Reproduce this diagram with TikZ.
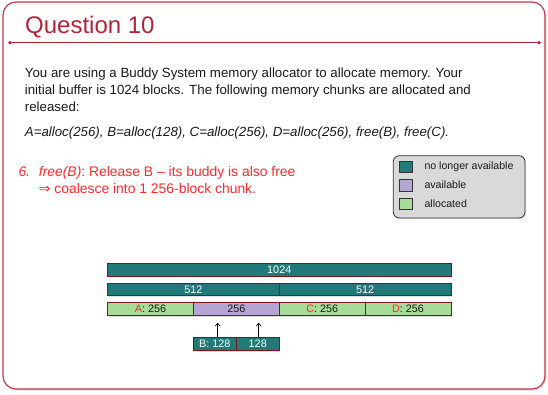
\documentclass[tikz,border=0pt]{standalone}
\usepackage{fontspec}
\setmainfont{Liberation Sans}
\newfontfamily\symfont{DejaVu Sans}
\usetikzlibrary{shadows,arrows.meta}
\definecolor{framered}{HTML}{C23A4C}
\definecolor{titlered}{HTML}{B3243A}
\definecolor{alertred}{HTML}{FF2A2A}
\definecolor{blockteal}{HTML}{22797A}
\definecolor{blockpurple}{HTML}{B4A5D2}
\definecolor{blockgreen}{HTML}{A6DB98}
\definecolor{blockedge}{HTML}{7A1420}
\definecolor{legendgray}{HTML}{D9D9D9}
\definecolor{bodytext}{HTML}{1A1A1A}
\tikzset{
  txt/.style={inner sep=0pt, anchor=base west, text=bodytext,
              font=\fontsize{13.3}{16}\selectfont},
  redtxt/.style={txt, text=alertred, font=\fontsize{13.9}{16}\selectfont},
  softshadow/.style={drop shadow={shadow xshift=1pt, shadow yshift=-1pt, opacity=0.25}},
  block/.style={draw=blockedge, line width=0.8pt, inner sep=0pt, softshadow,
                font=\fontsize{10.8}{12}\selectfont},
  used/.style={block, fill=blockteal, text=white},
  free/.style={block, fill=blockpurple, text=bodytext},
  taken/.style={block, fill=blockgreen, text=bodytext},
  swatch/.style={draw=black!80, line width=0.7pt, minimum width=13.5pt,
                 minimum height=11.5pt, inner sep=0pt},
  legendtxt/.style={inner sep=0pt, anchor=west, text=bodytext,
                    font=\fontsize{10.6}{12}\selectfont},
  arr/.style={-{Straight Barb[length=3pt,width=5pt]}, line width=0.6pt, black}
}
\begin{document}
\begin{tikzpicture}[x=1pt,y=-1pt]
% page
\fill[white] (0,0) rectangle (548,394);
\useasboundingbox (0,0) rectangle (548,394);

% slide frame and title rule
\draw[framered, line width=1.2pt, rounded corners=13pt,
      drop shadow={shadow xshift=1.2pt, shadow yshift=-1.5pt, opacity=0.3}, fill=white]
  (3,2) rectangle (545,389);
\node[inner sep=0pt, anchor=base west, text=titlered,
      font=\fontsize{24}{28}\selectfont] (title) at (25,33.3) {Question 10};
\coordinate (ruleL) at (10,42.7);
\coordinate (ruleR) at (539,42.7);
\draw[titlered, line width=1pt] (ruleL) -- (ruleR);
\fill[titlered] (ruleL) circle (1.8pt) (ruleR) circle (1.8pt);

% problem statement
\node[txt] (l1) at (24.7,77.7) {You are using a Buddy System memory allocator to allocate memory. Your};
\node[txt] (l2) at (24.7,94.4) {initial buffer is 1024 blocks. The following memory chunks are allocated and};
\node[txt] (l3) at (24.7,111.1) {released:};
\node[txt] (l4) at (24.7,136.7) {\itshape A=alloc(256), B=alloc(128), C=alloc(256), D=alloc(256), free(B), free(C).};

% current step
\node[redtxt] (s0) at (18.3,176.7) {\itshape 6.};
\node[redtxt] (s1) at (38.7,176.7) {\textit{free(B)}: Release B -- its buddy is also free};
\node[redtxt] (s2) at (38.7,193.3) {{\symfont ⇒} coalesce into 1 256-block chunk.};

% legend
\draw[black!80, line width=0.8pt, fill=legendgray, rounded corners=6pt, softshadow]
  (393.3,155.7) rectangle (525,218);
\node[swatch, fill=blockteal]   (k1) at (405.9,166.8) {};
\node[swatch, fill=blockpurple] (k2) at (405.9,185.2) {};
\node[swatch, fill=blockgreen]  (k3) at (405.9,203.8) {};
\node[legendtxt] at (424.3,166.8) {no longer available};
\node[legendtxt] at (424.3,185.2) {available};
\node[legendtxt] at (424.3,203.8) {allocated};

% buddy tree
\node[used, minimum width=343.5pt, minimum height=12.5pt] (m1024) at (279.25,269.75) {1024};
\node[used, minimum width=171.85pt, minimum height=12.2pt] (m512a) at (193.4,289.6) {512};
\node[used, minimum width=171.85pt, minimum height=12.2pt] (m512b) at (365.1,289.6) {512};
\node[taken, minimum width=85.9pt, minimum height=13pt] (mA) at (150.45,309.2) {{\color{alertred}A}: 256};
\node[free,  minimum width=85.9pt, minimum height=13pt] (mAB) at (236.3,309.2) {256};
\node[taken, minimum width=85.9pt, minimum height=13pt] (mC) at (322.2,309.2) {{\color{alertred}C}: 256};
\node[taken, minimum width=85.9pt, minimum height=13pt] (mD) at (408.05,309.2) {{\color{alertred}D}: 256};
\node[used, minimum width=42.9pt, minimum height=13pt] (mB) at (214.85,344.2) {B: 128};
\node[used, minimum width=42.9pt, minimum height=13pt] (mBb) at (257.75,344.2) {128};

% B and its buddy merge back into the 256 chunk
\coordinate (up1) at (217.7,322.7);
\coordinate (up2) at (258.7,322.7);
\draw[arr] (up1 |- mB.north) -- (up1);
\draw[arr] (up2 |- mBb.north) -- (up2);
\end{tikzpicture}
\end{document}
